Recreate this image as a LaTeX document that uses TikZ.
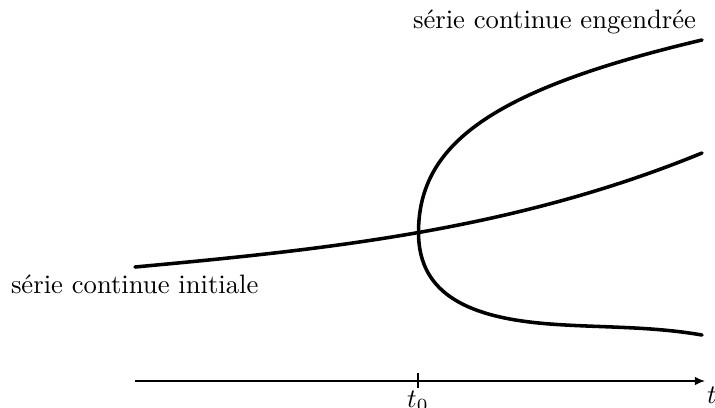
\documentclass[tikz,border=0pt]{standalone}
\usetikzlibrary{arrows.meta}
\begin{document}
\begin{tikzpicture}[x=0.3753pt,y=-0.3753pt,
  curve/.style={line width=1.33pt,line cap=round},
  axisline/.style={line width=0.53pt,-{Latex[length=3.8pt,width=3.2pt]}},
  lbl/.style={inner sep=0pt,outer sep=0pt}]
\useasboundingbox (0,0) rectangle (715,407);
% axis
\coordinate (a0) at (135,381);
\coordinate (a1) at (705,381);
\coordinate (tk0) at (418,373);
\coordinate (tk1) at (418,388);
\draw[axisline] (a0) -- (a1);
\draw[line width=0.53pt] (tk0) -- (tk1);
\node[lbl,anchor=base] (t0) at (418,407) {$t_0$};
\node[lbl,anchor=base west] (t) at (707,403) {$t$};
% initial series
\coordinate (p0) at (135,267);
\coordinate (pc) at (418.5,232.5);
\coordinate (p1) at (702,153);
\draw[curve] (p0) .. controls (324,249.5) and (513,230.5) .. (p1);
% engendered branches
\coordinate (u1) at (702,40);
\coordinate (m1) at (550,324);
\coordinate (l1) at (702,335);
\draw[curve] (pc) .. controls (418.5,145) and (490,90) .. (u1);
\draw[curve] (pc) .. controls (418.5,295) and (470,318) .. (m1)
  .. controls (600,327.75) and (650,326) .. (l1);
% labels
\node[lbl,anchor=base west] (init) at (11,293) {série continue initiale};
\node[lbl,anchor=base west] (eng) at (413,28) {série continue engendrée};
\end{tikzpicture}
\end{document}
